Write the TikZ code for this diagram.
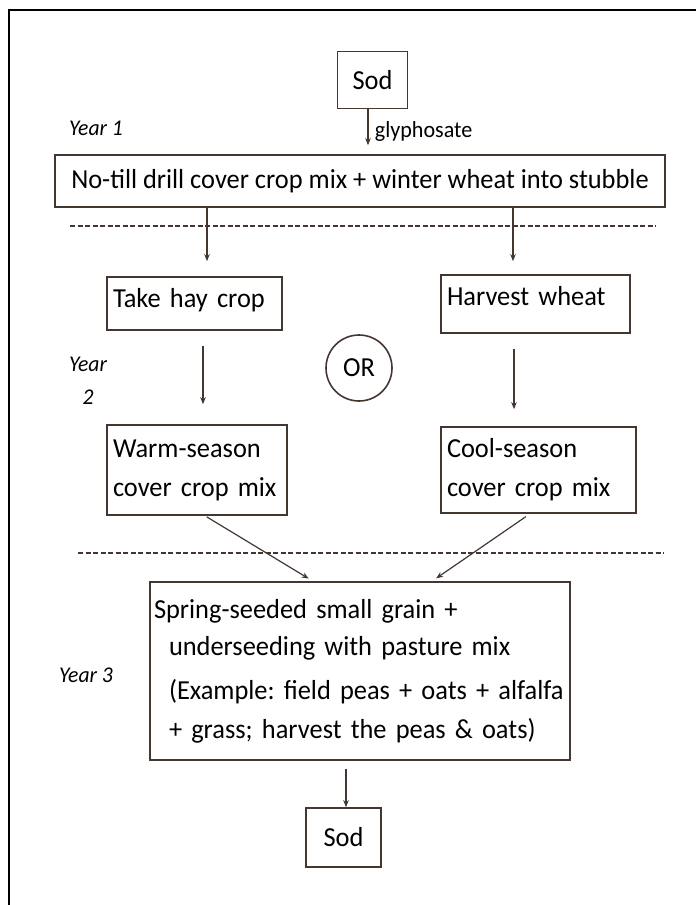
\documentclass[tikz,border=0pt]{standalone}
\usepackage{fontspec}
\setmainfont{Carlito}[FakeStretch=0.96]
\usetikzlibrary{arrows.meta,positioning,calc}
\definecolor{linebrown}{RGB}{68,55,50}
\tikzset{
    box/.style={draw=linebrown, line width=1.6pt, inner sep=5pt,
        font=\fontsize{27.5}{36}\selectfont},
    flow/.style={draw=linebrown, line width=1.2pt, -{Stealth[length=7pt,width=5.5pt]}},
    yearlabel/.style={font=\fontsize{22.5}{33}\selectfont\itshape, align=center},
    smalllabel/.style={font=\fontsize{23}{26}\selectfont},
    divider/.style={draw=linebrown, line width=1.1pt, dash pattern=on 5pt off 2.5pt},
}

\begin{document}
\frenchspacing
\begin{tikzpicture}[x=1pt,y=-1pt]
    \useasboundingbox (0,0) rectangle (696,905);
    % frame
    \draw[line width=2.4pt] (9,905) -- (9,10) -- (696,10);
    % year 1
    \node[box, minimum width=70pt, minimum height=57pt] (sod) at (372.5,80) {Sod};
    \node[box, minimum width=610pt, minimum height=52pt] (drill) at (360,181)
        {No-till drill cover crop mix + winter wheat into stubble};
    \node[yearlabel] (year1) at (96,128) {Year 1};
    % year 2
    \node[box, minimum width=175pt, minimum height=53pt, text width=163pt, align=left,
        text depth=12pt] (hay) at (194.5,303.5) {Take hay crop};
    \node[box, minimum width=189pt, minimum height=58pt, text width=177pt, align=left,
        text depth=16pt] (harvest) at (535.5,304) {Harvest wheat};
    \node[box, circle, minimum size=66pt, inner sep=0pt] (or) at (359,368) {OR};
    \node[box, minimum width=180pt, minimum height=90pt, text width=168pt, align=left,
        font=\fontsize{27.5}{39}\selectfont] (warm) at (197,470)
        {Warm-season\\cover crop mix};
    \node[box, minimum width=195pt, minimum height=86pt, text width=183pt, align=left,
        font=\fontsize{27.5}{39}\selectfont] (cool) at (538.5,470)
        {Cool-season\\cover crop mix};
    \node[yearlabel] (year2) at (88,381) {Year\\2};
    % year 3
    \node[box, minimum width=420pt, minimum height=178pt, text width=412pt, align=left,
        inner xsep=4pt] (spring) at (360,671)
        {Spring-seeded small grain +\\[1pt]
         \hspace*{15pt}underseeding with pasture mix\\[8pt]
         \hspace*{15pt}(Example: field peas + oats + alfalfa\\[3pt]
         \hspace*{15pt}+ grass; harvest the peas \& oats)};
    \node[yearlabel] (year3) at (86,675) {Year 3};
    \node[box, minimum width=75pt, minimum height=59pt] (sod2) at (343.5,837.5) {Sod};
    % dividers
    \coordinate (cutA) at (70,226);
    \coordinate (cutB) at (656,226);
    \coordinate (cutC) at (78,553);
    \coordinate (cutD) at (664,553);
    \draw[divider] (cutA) -- (cutB);
    \draw[divider] (cutC) -- (cutD);
    % arrows
    \draw[flow, shorten >=9pt] ([xshift=-4.5pt]sod.south) -- node[smalllabel, right=3pt] (glyph) {glyphosate}
        ([xshift=-4.5pt]sod.south |- drill.north);
    \draw[flow, shorten >=15pt] ([xshift=12.5pt]hay.north |- drill.south) -- ([xshift=12.5pt]hay.north);
    \draw[flow, shorten >=13pt] ([xshift=-22.5pt]harvest.north |- drill.south) -- ([xshift=-22.5pt]harvest.north);
    \draw[flow, shorten <=15pt, shorten >=20pt] ([xshift=8.5pt]hay.south) -- ([xshift=8.5pt]hay.south |- warm.north);
    \draw[flow, shorten <=15pt, shorten >=17pt] ([xshift=-21.5pt]harvest.south) -- ([xshift=-21.5pt]harvest.south |- cool.north);
    \draw[flow, shorten <=2pt, shorten >=5pt] ([xshift=8pt]warm.south) -- ([xshift=-47pt]spring.north);
    \draw[flow, shorten <=5pt, shorten >=5pt] ([xshift=-8.5pt]cool.south) -- ([xshift=72pt]spring.north);
    \draw[flow, shorten <=8pt] ([xshift=2.5pt]sod2.north |- spring.south) -- ([xshift=2.5pt]sod2.north);
\end{tikzpicture}
\end{document}
